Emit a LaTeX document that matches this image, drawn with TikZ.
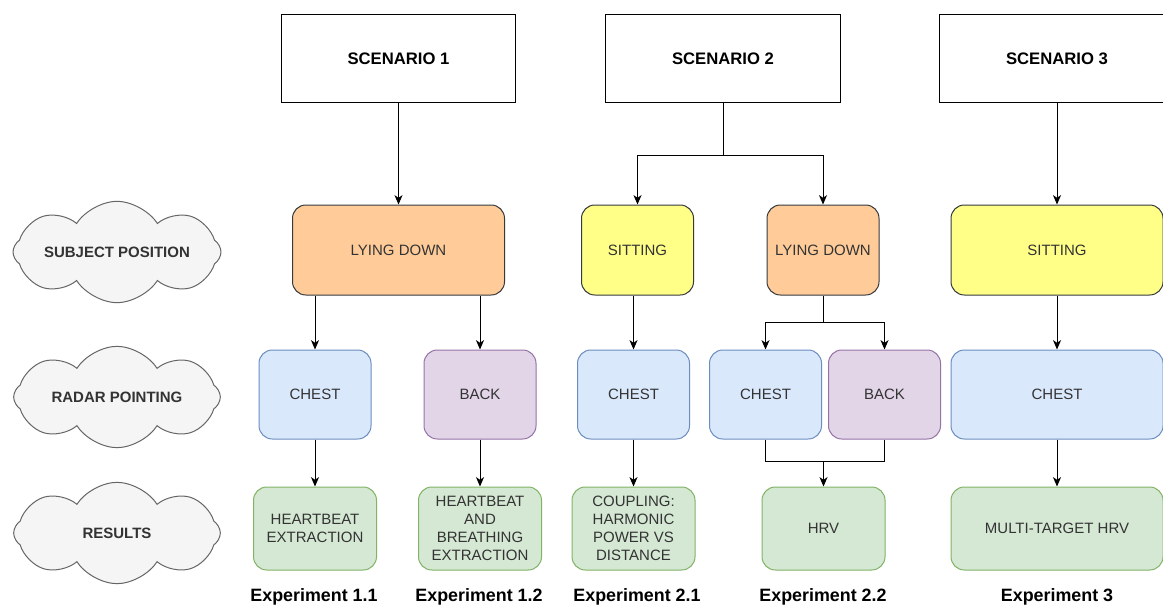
\documentclass[tikz,border=0pt]{standalone}
\usepackage{fontspec}
\setmainfont{Liberation Sans}
\usetikzlibrary{shapes.symbols, arrows.meta}
\definecolor{lyingfill}{HTML}{FFCC99}
\definecolor{sittingfill}{HTML}{FFFF88}
\definecolor{boxline}{HTML}{36393D}
\definecolor{chestfill}{HTML}{DAE8FC}
\definecolor{chestline}{HTML}{6C8EBF}
\definecolor{backfill}{HTML}{E1D5E7}
\definecolor{backline}{HTML}{9673A6}
\definecolor{resfill}{HTML}{D5E8D4}
\definecolor{resline}{HTML}{82B366}
\definecolor{cloudfill}{HTML}{F5F5F5}
\definecolor{cloudline}{HTML}{666666}
\definecolor{labeltext}{HTML}{333333}

\begin{document}
\begin{tikzpicture}[
    x=0.75pt, y=-0.75pt,
    scenbox/.style={rectangle, draw=black, fill=white, line width=0.75pt, minimum width=176pt, minimum height=66pt, font=\fontsize{12.5}{14}\selectfont\bfseries},
    stepbox/.style={rectangle, rounded corners=10pt, line width=0.75pt, minimum width=84pt, align=center, text=labeltext, inner sep=2pt, font=\fontsize{11.25}{13.4}\selectfont},
    posbox/.style={stepbox, draw=boxline, minimum height=67.5pt},
    lyingbox/.style={posbox, fill=lyingfill},
    sittingbox/.style={posbox, fill=sittingfill},
    chestbox/.style={stepbox, draw=chestline, fill=chestfill, minimum height=66.75pt},
    backbox/.style={stepbox, draw=backline, fill=backfill, minimum height=66.75pt},
    resbox/.style={stepbox, draw=resline, fill=resfill, minimum width=92.25pt, minimum height=62.25pt},
    rowcloud/.style={cloud, cloud puffs=8, cloud puff arc=115, cloud ignores aspect, draw=cloudline, fill=cloudfill, line width=0.75pt, minimum width=155pt, minimum height=76pt, text=labeltext, font=\fontsize{11.25}{13}\selectfont\bfseries},
    explabel/.style={font=\fontsize{13.4}{15}\selectfont\bfseries},
    wire/.style={line width=0.75pt},
    arrow/.style={wire, -{Stealth[length=7pt, width=6pt, inset=2pt]}}
]
    \useasboundingbox (0,0) rectangle (1163,606);
    \fill[white] (0,0) rectangle (1163,606);
    \clip (0,0) rectangle (1163,606);

    % Scenarios
    \node[scenbox] (sc1) at (398.5,59) {SCENARIO 1};
    \node[scenbox] (sc2) at (723,59) {SCENARIO 2};
    \node[scenbox] (sc3) at (1057,59) {SCENARIO 3};

    % Row labels
    \node[rowcloud] (cpos) at (117,252) {SUBJECT POSITION};
    \node[rowcloud] (cradar) at (117,397) {RADAR POINTING};
    \node[rowcloud] (cres) at (117,533) {RESULTS};

    % Subject position
    \node[lyingbox, minimum width=159pt] (lie1) at (398.5,250) {LYING DOWN};
    \node[sittingbox] (sit2) at (637.5,250) {SITTING};
    \node[lyingbox] (lie2) at (823,250) {LYING DOWN};
    \node[sittingbox, minimum width=159pt] (sit3) at (1057,250) {SITTING};

    % Radar pointing
    \node[chestbox] (ch1) at (315,394.5) {CHEST};
    \node[backbox] (bk1) at (480,394.5) {BACK};
    \node[chestbox] (ch2) at (633.5,394.5) {CHEST};
    \node[chestbox] (ch22) at (765.5,394.5) {CHEST};
    \node[backbox] (bk22) at (884.5,394.5) {BACK};
    \node[chestbox, minimum width=159pt] (ch3) at (1057,394.5) {CHEST};

    % Results
    \node[resbox] (hb) at (315,528.5) {HEARTBEAT\\EXTRACTION};
    \node[resbox] (hbb) at (480,528.5) {HEARTBEAT\\AND\\BREATHING\\EXTRACTION};
    \node[resbox] (coup) at (633.5,528.5) {COUPLING:\\HARMONIC\\POWER VS\\DISTANCE};
    \node[resbox] (hrv) at (823.5,528.5) {HRV};
    \node[resbox, minimum width=159pt] (mhrv) at (1057,528.5) {MULTI-TARGET HRV};

    % Experiments
    \node[explabel] (e11) at (314,597) {Experiment 1.1};
    \node[explabel] (e12) at (479,597) {Experiment 1.2};
    \node[explabel] (e21) at (637,597) {Experiment 2.1};
    \node[explabel] (e22) at (823,597) {Experiment 2.2};
    \node[explabel] (e3) at (1057,597) {Experiment 3};

    % Arrows
    \draw[arrow] (sc1) -- (lie1);
    \path (sc2.south) ++(0,52) coordinate (sc2j);
    \draw[wire] (sc2.south) -- (sc2j);
    \draw[arrow] (sc2j) -| (sit2);
    \draw[arrow] (sc2j) -| (lie2);
    \draw[arrow] (sc3) -- (sit3);

    \draw[arrow] (lie1.south -| ch1.north) -- (ch1);
    \draw[arrow] (lie1.south -| bk1.north) -- (bk1);
    \draw[arrow] (sit2.south -| ch2.north) -- (ch2);
    \path (lie2.south) ++(0,27) coordinate (lie2j);
    \draw[wire] (lie2.south) -- (lie2j);
    \draw[arrow] (lie2j) -| (ch22);
    \draw[arrow] (lie2j) -| (bk22);
    \draw[arrow] (sit3) -- (ch3);

    \draw[arrow] (ch1) -- (hb);
    \draw[arrow] (bk1) -- (hbb);
    \draw[arrow] (ch2) -- (coup);
    \path (hrv.north) ++(0,-25) coordinate (hrvj);
    \draw[wire] (ch22.south) |- (hrvj) -| (bk22.south);
    \draw[arrow] (hrvj) -- (hrv);
    \draw[arrow] (ch3) -- (mhrv);

\end{tikzpicture}
\end{document}
